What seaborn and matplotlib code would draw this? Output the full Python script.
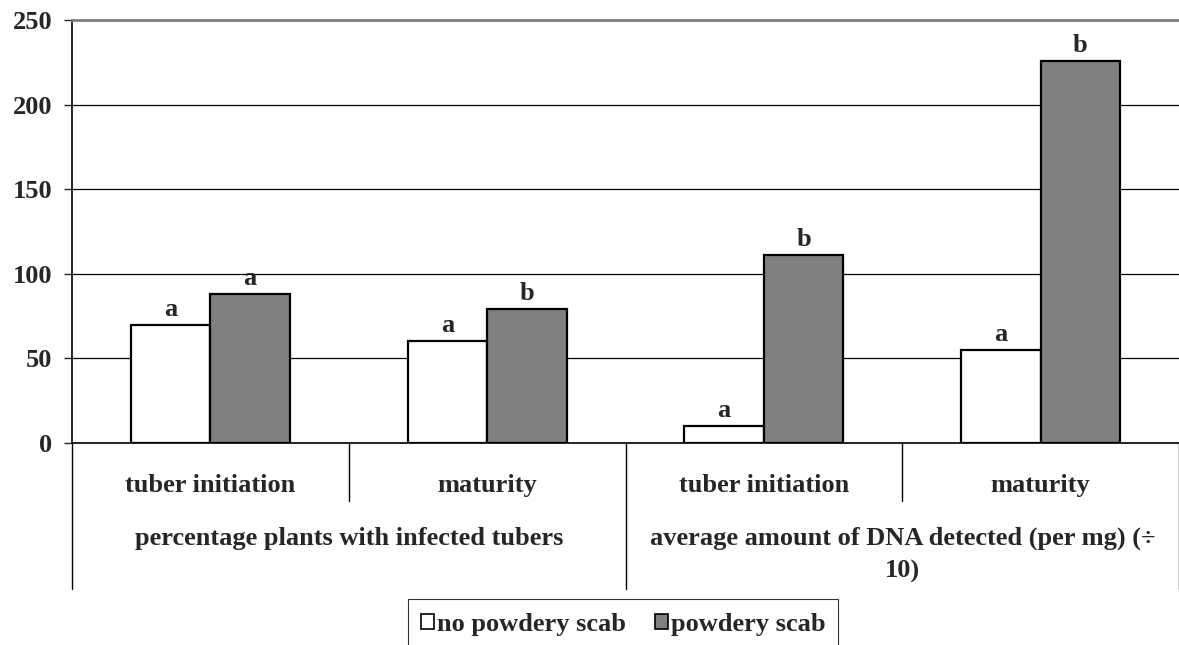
import pandas as pd
import matplotlib.pyplot as plt
import seaborn as sns
from matplotlib.patches import Patch
from matplotlib.transforms import blended_transform_factory

grupos = ["percentage plants with infected tubers",
          "average amount of DNA detected (per mg) (÷\n10)"]
estagios = ["tuber initiation", "maturity"]
series = ["no powdery scab", "powdery scab"]
sem_sarna = [70, 60, 10, 55]
com_sarna = [88, 79, 111, 226]
letras_sem = ["a", "a", "a", "a"]
letras_com = ["a", "b", "b", "b"]

categorias = [g + " | " + e for g in grupos for e in estagios]
df = pd.DataFrame({
    "categoria": categorias * 2,
    "valor": sem_sarna + com_sarna,
    "serie": [series[0]] * 4 + [series[1]] * 4,
})

sns.set_style("white")
plt.rcParams['font.family'] = ['Liberation Serif', 'DejaVu Serif']
plt.rcParams['font.weight'] = 'bold'
fs = 19

fig = plt.figure(figsize=(11.79, 6.45), dpi=100)
ax = fig.add_axes([72 / 1179, 1 - 443 / 645, 1 - 72 / 1179, 423 / 645])

sns.barplot(
    data=df, x="categoria", y="valor", hue="serie",
    order=categorias, hue_order=series,
    palette=["white", "#808080"], saturation=1,
    edgecolor="black", linewidth=1.6,
    width=0.575, gap=0, legend=False, ax=ax
)

ax.set_xlim(-0.5, 3.5)
ax.set_ylim(0, 250)
ax.set_yticks(range(0, 251, 50))
ax.set_axisbelow(True)
ax.yaxis.grid(True, color="black", linewidth=0.9)
ax.set_xlabel("")
ax.set_ylabel("")
ax.tick_params(axis="x", length=0, labelbottom=False)
ax.tick_params(axis="y", direction="out", length=6, width=1, pad=8,
               labelsize=fs, left=True)
for lbl in ax.get_yticklabels():
    lbl.set_fontweight("bold")

ax.spines["top"].set_color("#808080")
ax.spines["top"].set_linewidth(2)
ax.spines["right"].set_visible(False)
ax.spines["left"].set_color("black")
ax.spines["left"].set_linewidth(1.2)
ax.spines["bottom"].set_color("black")
ax.spines["bottom"].set_linewidth(1.2)

# letras de significancia
for cont, letras in zip(ax.containers, [letras_sem, letras_com]):
    for barra, letra in zip(cont, letras):
        ax.annotate(letra, (barra.get_x() + barra.get_width() / 2, barra.get_height()),
                    xytext=(0, 6.5), textcoords="offset points",
                    ha="center", va="baseline", fontsize=fs, fontweight="bold")

# eixo x em dois niveis
trans = blended_transform_factory(ax.transData, ax.transAxes)
for x in [-0.5, 1.5, 3.5]:
    ax.plot([x, x], [0, -0.345], color="black", linewidth=1, transform=trans, clip_on=False)
for x in [0.5, 2.5]:
    ax.plot([x, x], [0, -0.137], color="black", linewidth=1, transform=trans, clip_on=False)

for i, cat in enumerate(categorias):
    ax.text(i, -0.116, cat.split(" | ")[1], transform=trans, ha="center", va="baseline",
            fontsize=fs, fontweight="bold")
for j, g in enumerate(grupos):
    ax.text(2 * j + 0.5, -0.198, g, transform=trans, ha="center", va="top",
            fontsize=fs, fontweight="bold", linespacing=1.5)

handles = [Patch(facecolor="white", edgecolor="black", linewidth=1.2),
           Patch(facecolor="#808080", edgecolor="black", linewidth=1.2)]
leg = fig.legend(handles=handles, labels=series, ncol=2, loc="center",
                 bbox_to_anchor=(623 / 1179, 1 - 624 / 645), frameon=True,
                 fancybox=False, edgecolor="black", handlelength=0.5, handleheight=0.5,
                 handletextpad=0.1, columnspacing=1.1, borderpad=0.5,
                 prop={"size": fs, "weight": "bold"})
leg.get_frame().set_linewidth(0.8)

fig.savefig("out.png", dpi=100)
